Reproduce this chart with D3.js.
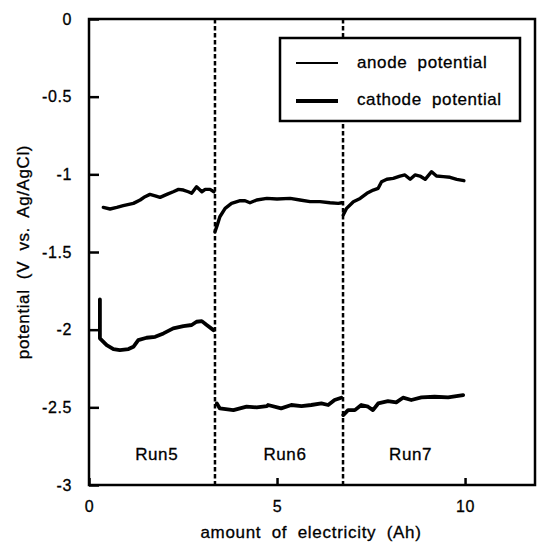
<!DOCTYPE html>
<html>
<head>
<meta charset="utf-8">
<script src="https://cdn.jsdelivr.net/npm/d3@7/dist/d3.min.js"></script>
<style>
  body { margin: 0; background: #fff; }
  text { font-family: "Liberation Sans", Arial, Helvetica, sans-serif; fill: #000; stroke: #000; stroke-width: 0.3px; }
</style>
</head>
<body>
<div id="holder"></div>
<script>
const w = 537;
const h = 542;

// plot frame (pixels)
const plotLeft = 89, plotRight = 535, plotTop = 19, plotBottom = 485;

// Data: [amount of electricity (Ah), potential (V)]
const anodeRun5 = [[0.38,-1.213],[0.56,-1.223],[0.74,-1.213],[0.91,-1.202],[1.18,-1.187],[1.36,-1.165],[1.49,-1.144],[1.62,-1.129],[1.76,-1.138],[1.89,-1.148],[2.07,-1.129],[2.24,-1.112],[2.38,-1.097],[2.51,-1.101],[2.64,-1.112],[2.73,-1.122],[2.86,-1.080],[3.0,-1.112],[3.09,-1.097],[3.22,-1.097],[3.32,-1.112]];
const anodeRun6 = [[3.35,-1.37],[3.41,-1.327],[3.48,-1.273],[3.62,-1.219],[3.79,-1.187],[4.02,-1.170],[4.15,-1.170],[4.28,-1.183],[4.46,-1.165],[4.73,-1.155],[5.0,-1.159],[5.35,-1.155],[5.61,-1.165],[5.88,-1.176],[6.14,-1.176],[6.41,-1.183],[6.63,-1.187],[6.72,-1.183]];
const anodeRun7 = [[6.76,-1.262],[6.85,-1.219],[7.03,-1.176],[7.21,-1.155],[7.39,-1.122],[7.56,-1.101],[7.69,-1.090],[7.78,-1.048],[7.92,-1.032],[8.09,-1.026],[8.27,-1.011],[8.40,-1.004],[8.54,-1.032],[8.67,-1.004],[8.80,-1.011],[8.94,-1.032],[9.11,-0.983],[9.24,-1.011],[9.42,-1.015],[9.60,-1.019],[9.78,-1.032],[9.97,-1.041]];

const cathodeRun5 = [[0.29,-1.805],[0.29,-2.056],[0.47,-2.099],[0.65,-2.125],[0.82,-2.131],[1.05,-2.125],[1.18,-2.110],[1.31,-2.067],[1.53,-2.052],[1.76,-2.046],[1.98,-2.024],[2.24,-1.992],[2.51,-1.977],[2.73,-1.970],[2.86,-1.949],[3.0,-1.945],[3.13,-1.970],[3.31,-2.003]];
const cathodeRun6 = [[3.40,-2.475],[3.48,-2.507],[3.84,-2.518],[4.19,-2.496],[4.46,-2.500],[4.73,-2.492],[4.76,-2.485],[5.11,-2.507],[5.38,-2.485],[5.65,-2.492],[5.91,-2.485],[6.18,-2.475],[6.36,-2.485],[6.53,-2.453],[6.71,-2.438]];
const cathodeRun7 = [[6.76,-2.550],[6.89,-2.518],[7.07,-2.518],[7.24,-2.485],[7.42,-2.496],[7.55,-2.518],[7.69,-2.475],[7.95,-2.460],[8.17,-2.468],[8.35,-2.438],[8.57,-2.453],[8.84,-2.436],[9.19,-2.432],[9.55,-2.436],[9.77,-2.428],[9.95,-2.421]];

// run boundaries and labels
const runBreaks = [3.35, 6.755];
const runLabels = ["Run5", "Run6", "Run7"];
const runLabelX = [1.8, 5.21, 8.55];
const runLabelY = -2.84;

const xTicks = [0, 5, 10];
const yTicks = [0, -0.5, -1, -1.5, -2, -2.5, -3];
const xDomain = [0, 11.86];
const yDomain = [-3, 0];

const svg = d3.select("#holder")
    .append("svg")
    .attr("width", w)
    .attr("height", h)

const x = d3.scaleLinear().domain(xDomain).range([plotLeft, plotRight]);
const y = d3.scaleLinear().domain(yDomain).range([plotBottom, plotTop]);

// Axes with inward ticks
const yAxis = svg.append("g")
    .attr("transform", `translate(${plotLeft},0)`)
    .call(d3.axisLeft(y).tickValues(yTicks).tickSize(-10).tickPadding(17).tickFormat(d => String(d)))
yAxis.select(".domain").remove()
yAxis.selectAll("line").attr("stroke-width", 2.5)
yAxis.selectAll("text").attr("font-size", 16).style("letter-spacing", "0.6px")
    .style("font-family", "'Liberation Sans', Arial, sans-serif")

const xAxis = svg.append("g")
    .attr("transform", `translate(0,${plotBottom})`)
    .call(d3.axisBottom(x).tickValues(xTicks).tickSize(-7).tickPadding(16).tickFormat(d => String(d)))
xAxis.select(".domain").remove()
xAxis.selectAll("line").attr("stroke-width", 2.5)
xAxis.selectAll("text").attr("font-size", 16).style("letter-spacing", "0.6px")
    .style("font-family", "'Liberation Sans', Arial, sans-serif")

// Frame
svg.append("rect")
    .attr("x", plotLeft)
    .attr("y", plotTop)
    .attr("width", plotRight - plotLeft)
    .attr("height", plotBottom - plotTop)
    .attr("fill", "none")
    .attr("stroke", "black")
    .attr("stroke-width", 2.5)

// Dashed run separators
svg.selectAll(".sep")
    .data(runBreaks)
    .join("line")
    .attr("class", "sep")
    .attr("x1", d => x(d))
    .attr("x2", d => x(d))
    .attr("y1", y(0))
    .attr("y2", y(-3))
    .attr("stroke", "black")
    .attr("stroke-width", 2.5)
    .attr("stroke-dasharray", "4.5,2.5")

// Curves
const line = d3.line().x(d => x(d[0])).y(d => y(d[1]));

svg.selectAll(".anode")
    .data([anodeRun5, anodeRun6, anodeRun7])
    .join("path")
    .attr("class", "anode")
    .attr("d", line)
    .attr("fill", "none")
    .attr("stroke", "black")
    .attr("stroke-width", 3.4)
    .attr("stroke-linejoin", "round")
    .attr("stroke-linecap", "round")

svg.selectAll(".cathode")
    .data([cathodeRun5, cathodeRun6, cathodeRun7])
    .join("path")
    .attr("class", "cathode")
    .attr("d", line)
    .attr("fill", "none")
    .attr("stroke", "black")
    .attr("stroke-width", 3.8)
    .attr("stroke-linejoin", "round")
    .attr("stroke-linecap", "round")

// Run labels
svg.selectAll(".run")
    .data(runLabels)
    .join("text")
    .attr("class", "run")
    .attr("x", (d, i) => x(runLabelX[i]))
    .attr("y", y(runLabelY))
    .attr("text-anchor", "middle")
    .attr("font-size", 17)
    .style("letter-spacing", "0.6px")
    .text(d => d)

// Axis titles
svg.append("text")
    .attr("x", 311)
    .attr("y", 538)
    .attr("text-anchor", "middle")
    .attr("font-size", 17)
    .style("letter-spacing", "0.7px")
    .style("word-spacing", "5px")
    .text("amount of electricity (Ah)")

svg.append("text")
    .attr("transform", `translate(29,${(plotTop + plotBottom) / 2}) rotate(-90)`)
    .attr("text-anchor", "middle")
    .attr("font-size", 17)
    .style("letter-spacing", "0.6px")
    .style("word-spacing", "5px")
    .text("potential (V vs. Ag/AgCl)")

// Legend
const legend = svg.append("g")
legend.append("rect")
    .attr("x", 280)
    .attr("y", 38)
    .attr("width", 240)
    .attr("height", 83)
    .attr("fill", "white")
    .attr("stroke", "black")
    .attr("stroke-width", 2.5)

const legendItems = ["anode potential", "cathode potential"];
const legendWidths = [2.2, 4];
legend.selectAll(".lg-line")
    .data(legendItems)
    .join("line")
    .attr("class", "lg-line")
    .attr("x1", 296)
    .attr("x2", 338)
    .attr("y1", (d, i) => 63 + i * 38)
    .attr("y2", (d, i) => 63 + i * 38)
    .attr("stroke", "black")
    .attr("stroke-width", (d, i) => legendWidths[i])

legend.selectAll(".lg-text")
    .data(legendItems)
    .join("text")
    .attr("class", "lg-text")
    .attr("x", 357)
    .attr("y", (d, i) => 68 + i * 37)
    .attr("font-size", 17)
    .style("letter-spacing", "0.6px")
    .style("word-spacing", "5px")
    .text(d => d)
</script>
</body>
</html>
